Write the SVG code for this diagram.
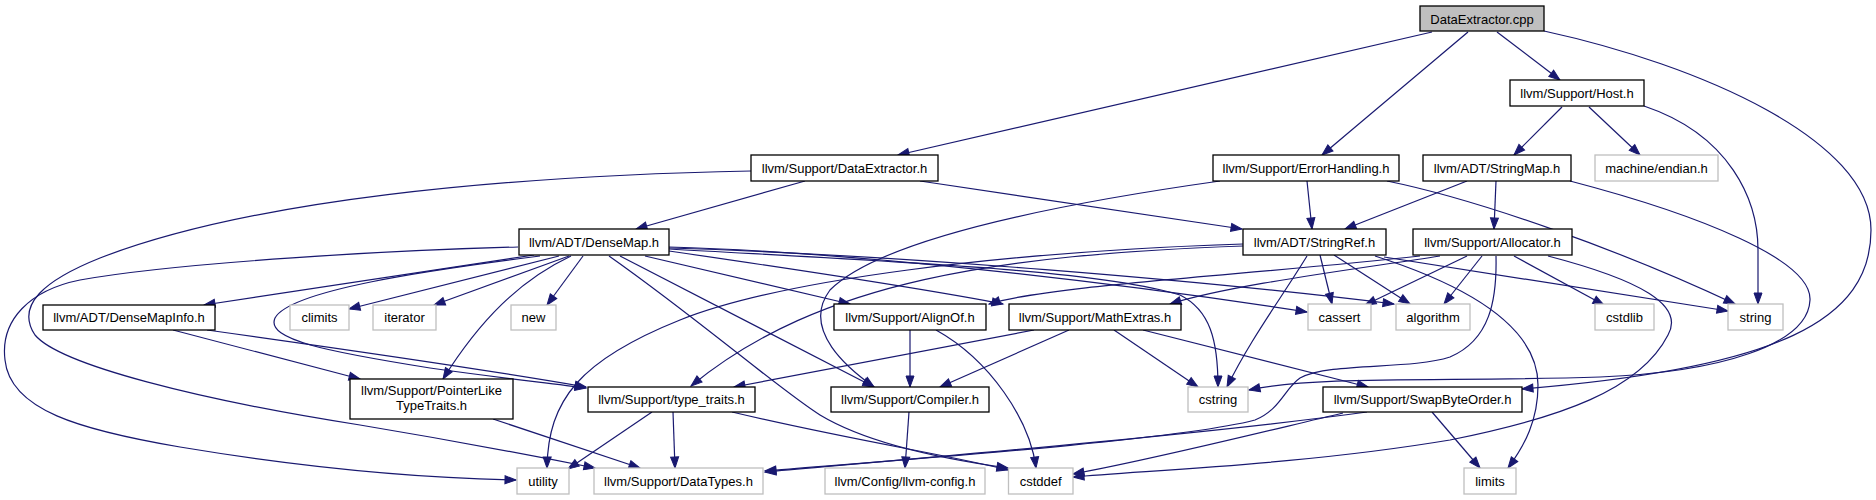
<svg xmlns="http://www.w3.org/2000/svg" width="1876" height="500" viewBox="0 0 1876 500">
<defs>
<style>
.n rect{fill:#fff;stroke:#000;stroke-width:1.3}
.g rect{fill:#fff;stroke:#bfbfbf;stroke-width:1.3}
.root rect{fill:#bfbfbf;stroke:#000;stroke-width:1.3}
text{font-family:"Liberation Sans",Arial,Helvetica,sans-serif;font-size:13px;text-anchor:middle;fill:#000}
#edges path{fill:none;stroke:#191970;stroke-width:1.2;marker-end:url(#ah)}
</style>
<marker id="ah" markerUnits="userSpaceOnUse" markerWidth="12" markerHeight="9" refX="11" refY="4" orient="auto" overflow="visible">
<path d="M0,0 L11,4 L0,8 z" fill="#191970" stroke="#191970" stroke-width="1"/>
</marker>
</defs>
<rect x="0" y="0" width="1876" height="500" fill="#fff"/>
<g id="edges">
<path d="M1432,32 L898,155"/>
<path d="M1468,32 L1322,155"/>
<path d="M1497,32 L1560,80"/>
<path d="M1544,31 C1700,65 1871,140 1871,230 C1871,320 1780,368 1522,389"/>
<path d="M1562,107 L1514,155"/>
<path d="M1589,107 L1640,155"/>
<path d="M1644,106 C1730,135 1758,200 1758,250 L1758,304"/>
<path d="M805,181 L636,229"/>
<path d="M920,181 L1242,229"/>
<path d="M751,171 C500,176 250,200 100,258 C45,280 15,305 35,335 C60,365 200,400 360,425 C450,440 530,455 595,468"/>
<path d="M1307,181 L1312,229"/>
<path d="M1220,181 C1050,205 880,240 830,290 C800,330 850,370 874,387"/>
<path d="M1387,181 C1480,200 1620,250 1735,304"/>
<path d="M1467,181 L1345,229"/>
<path d="M1496,181 L1494,229"/>
<path d="M1570,181 C1700,215 1812,260 1810,300 C1808,345 1720,372 1600,377 C1450,382 1320,375 1249,390"/>
<path d="M534,255 L204,305"/>
<path d="M559,256 L349,309"/>
<path d="M569,256 L434,305"/>
<path d="M583,256 L547,305"/>
<path d="M571,256 C520,280 480,320 443,379"/>
<path d="M540,256 C430,270 290,290 275,318 C265,340 330,352 430,368 C500,378 550,383 586,388"/>
<path d="M645,256 L850,304"/>
<path d="M669,251 C800,270 920,288 1003,304"/>
<path d="M620,256 L874,387"/>
<path d="M609,256 C700,320 780,390 820,415 C870,445 950,460 1008,468"/>
<path d="M669,247 C850,252 1100,280 1307,312"/>
<path d="M669,248 C900,255 1200,280 1394,304"/>
<path d="M669,249 C900,262 1100,270 1180,295 C1210,310 1218,340 1218,387"/>
<path d="M518,247 C400,250 180,262 80,280 C30,290 0,320 5,360 C10,410 80,430 180,447 C300,467 420,478 516,480"/>
<path d="M1320,255 L1332,304"/>
<path d="M1334,255 L1410,304"/>
<path d="M1307,256 C1280,300 1250,340 1227,387"/>
<path d="M1375,256 C1450,280 1538,320 1538,385 C1538,420 1525,445 1508,468"/>
<path d="M1384,257 L1728,311"/>
<path d="M1243,246 C1000,255 820,280 691,386"/>
<path d="M1243,244 C1000,252 780,280 680,320 C580,360 548,400 547,468"/>
<path d="M1467,256 L1365,305"/>
<path d="M1482,256 L1444,304"/>
<path d="M1514,256 L1604,305"/>
<path d="M1420,256 C1250,275 1050,285 989,304"/>
<path d="M1440,256 C1350,270 1230,285 1170,304"/>
<path d="M1496,256 C1497,300 1490,340 1450,357 C1410,370 1330,362 1300,378 C1285,388 1280,410 1255,420 C1180,440 900,460 765,471"/>
<path d="M1548,256 C1640,280 1685,305 1668,335 C1640,390 1560,418 1450,440 C1300,465 1150,470 1073,477"/>
<path d="M173,330 L360,379"/>
<path d="M207,330 C350,350 500,372 586,387"/>
<path d="M493,419 L640,468"/>
<path d="M910,330 L910,387"/>
<path d="M936,330 C990,360 1030,420 1036,468"/>
<path d="M1034,330 L734,387"/>
<path d="M1069,330 L940,387"/>
<path d="M1114,330 L1198,387"/>
<path d="M1143,330 L1368,387"/>
<path d="M652,412 L568,469"/>
<path d="M673,412 L675,468"/>
<path d="M732,412 C850,440 950,455 1008,470"/>
<path d="M909,412 L905,468"/>
<path d="M1367,412 C1200,435 900,460 765,472"/>
<path d="M1343,413 C1250,435 1150,460 1073,474"/>
<path d="M1432,412 L1480,468"/>
</g>
<g id="n_cpp" class="root"><rect x="1420" y="6" width="124" height="25"/><text x="1482" y="23.5">DataExtractor.cpp</text></g>
<g id="n_host" class="n"><rect x="1510" y="80" width="134" height="26"/><text x="1577" y="97.5">llvm/Support/Host.h</text></g>
<g id="n_dex" class="n"><rect x="751" y="155" width="187" height="26"/><text x="844.5" y="172.5">llvm/Support/DataExtractor.h</text></g>
<g id="n_err" class="n"><rect x="1213" y="155" width="186" height="26"/><text x="1306" y="172.5">llvm/Support/ErrorHandling.h</text></g>
<g id="n_smap" class="n"><rect x="1423" y="155" width="148" height="26"/><text x="1497" y="172.5">llvm/ADT/StringMap.h</text></g>
<g id="n_endian" class="g"><rect x="1595" y="155" width="123" height="26"/><text x="1656.5" y="172.5">machine/endian.h</text></g>
<g id="n_dmap" class="n"><rect x="519" y="229" width="150" height="26"/><text x="594" y="246.5">llvm/ADT/DenseMap.h</text></g>
<g id="n_sref" class="n"><rect x="1243" y="229" width="143" height="26"/><text x="1314.5" y="246.5">llvm/ADT/StringRef.h</text></g>
<g id="n_alloc" class="n"><rect x="1413" y="229" width="159" height="26"/><text x="1492.5" y="246.5">llvm/Support/Allocator.h</text></g>
<g id="n_dmi" class="n"><rect x="43" y="305" width="172" height="25"/><text x="129" y="322">llvm/ADT/DenseMapInfo.h</text></g>
<g id="n_climits" class="g"><rect x="290" y="305" width="59" height="25"/><text x="319.5" y="322">climits</text></g>
<g id="n_iterator" class="g"><rect x="373" y="305" width="63" height="25"/><text x="404.5" y="322">iterator</text></g>
<g id="n_new" class="g"><rect x="511" y="305" width="45" height="25"/><text x="533.5" y="322">new</text></g>
<g id="n_align" class="n"><rect x="834" y="304" width="152" height="26"/><text x="910" y="321.5">llvm/Support/AlignOf.h</text></g>
<g id="n_math" class="n"><rect x="1009" y="304" width="172" height="26"/><text x="1095" y="321.5">llvm/Support/MathExtras.h</text></g>
<g id="n_cassert" class="g"><rect x="1308" y="304" width="63" height="26"/><text x="1339.5" y="321.5">cassert</text></g>
<g id="n_algorithm" class="g"><rect x="1396" y="304" width="74" height="26"/><text x="1433" y="321.5">algorithm</text></g>
<g id="n_cstdlib" class="g"><rect x="1595" y="304" width="59" height="26"/><text x="1624.5" y="321.5">cstdlib</text></g>
<g id="n_string" class="g"><rect x="1728" y="304" width="55" height="26"/><text x="1755.5" y="321.5">string</text></g>
<g id="n_plt" class="n"><rect x="350" y="379" width="163" height="40"/><text x="431.5" y="395">llvm/Support/PointerLike</text><text x="431.5" y="410">TypeTraits.h</text></g>
<g id="n_tt" class="n"><rect x="588" y="387" width="167" height="25"/><text x="671.5" y="404">llvm/Support/type_traits.h</text></g>
<g id="n_comp" class="n"><rect x="831" y="387" width="158" height="25"/><text x="910" y="404">llvm/Support/Compiler.h</text></g>
<g id="n_cstring" class="g"><rect x="1188" y="387" width="60" height="25"/><text x="1218" y="404">cstring</text></g>
<g id="n_sbo" class="n"><rect x="1323" y="387" width="199" height="25"/><text x="1422.5" y="404">llvm/Support/SwapByteOrder.h</text></g>
<g id="n_utility" class="g"><rect x="517" y="468" width="52" height="26"/><text x="543" y="485.5">utility</text></g>
<g id="n_dtypes" class="g"><rect x="594" y="468" width="169" height="26"/><text x="678.5" y="485.5">llvm/Support/DataTypes.h</text></g>
<g id="n_cfg" class="g"><rect x="825" y="468" width="160" height="26"/><text x="905" y="485.5">llvm/Config/llvm-config.h</text></g>
<g id="n_cstddef" class="g"><rect x="1008.5" y="468" width="64.5" height="26"/><text x="1040.7" y="485.5">cstddef</text></g>
<g id="n_limits" class="g"><rect x="1464" y="468" width="52" height="26"/><text x="1490" y="485.5">limits</text></g>
</svg>
